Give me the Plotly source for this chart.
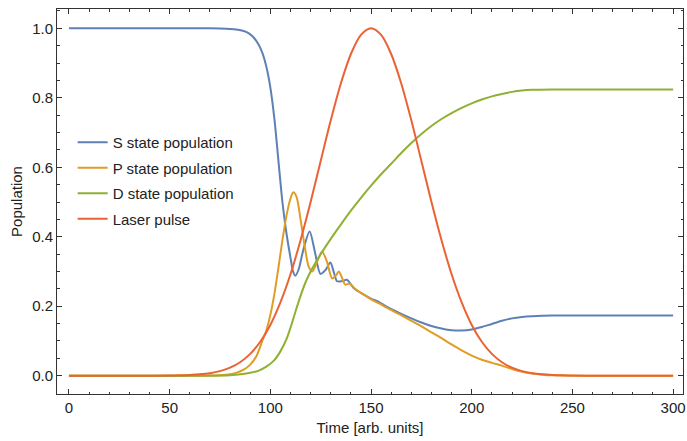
import plotly.graph_objects as go

# ---- data ----
t_S = [0, 20, 40, 60, 70, 78, 84, 88, 91, 94, 96, 98, 100, 102, 104, 106, 108, 110, 111.3, 112.4,
       114, 116.5, 119.5, 122, 124.9, 127.5, 129.8, 131.5, 133.1, 135.5, 138, 141.5, 146, 150, 154,
       158, 164, 170, 175, 180, 185, 190, 195, 200, 205, 210, 215, 220, 225, 230, 240, 250, 260, 280, 300]
S_pop = [1, 1, 1, 1, 1, 0.999, 0.996, 0.99, 0.978, 0.955, 0.93, 0.89, 0.83, 0.74, 0.62, 0.5, 0.41, 0.34, 0.3, 0.288,
         0.305, 0.365, 0.415, 0.36, 0.293, 0.305, 0.326, 0.298, 0.272, 0.272, 0.276, 0.252, 0.235, 0.222, 0.212,
         0.198, 0.181, 0.165, 0.153, 0.143, 0.136, 0.131, 0.13, 0.133, 0.14, 0.149, 0.158, 0.165, 0.169, 0.171, 0.173, 0.173, 0.173, 0.173, 0.173]

t_P = [0, 40, 60, 70, 78, 83, 87, 90, 93, 96, 98, 100, 102, 104, 106, 108, 110, 111.4, 113, 115, 117, 119,
       120.8, 123, 125.7, 128, 130.7, 132.5, 134, 135.7, 137.2, 139.5, 142, 146, 150, 154, 158, 164, 170, 175,
       180, 185, 190, 195, 200, 205, 210, 215, 220, 225, 230, 235, 240, 250, 270, 300]
P_pop = [0, 0, 0, 0.0005, 0.003, 0.008, 0.018, 0.032, 0.055, 0.1, 0.13, 0.175, 0.235, 0.31, 0.39, 0.46, 0.51, 0.528, 0.515, 0.45, 0.375, 0.315,
         0.3, 0.325, 0.357, 0.33, 0.28, 0.288, 0.3, 0.28, 0.262, 0.265, 0.25, 0.235, 0.22, 0.208, 0.195, 0.177, 0.158, 0.142,
         0.125, 0.108, 0.09, 0.073, 0.058, 0.046, 0.037, 0.029, 0.019, 0.011, 0.006, 0.003, 0.001, 0, 0, 0]

t_D = [0, 60, 80, 88, 94, 98, 102, 105, 108, 110, 112.5, 115, 117.5, 120, 122.5, 125, 130, 135, 140, 145, 150,
       155, 160, 165, 170, 175, 180, 185, 190, 195, 200, 205, 210, 215, 220, 225, 230, 240, 260, 280, 300]
D_pop = [0, 0, 0.001, 0.006, 0.014, 0.026, 0.045, 0.07, 0.105, 0.138, 0.185, 0.23, 0.269, 0.3, 0.326, 0.35, 0.394, 0.435, 0.475, 0.512, 0.547,
         0.58, 0.61, 0.641, 0.67, 0.696, 0.719, 0.739, 0.756, 0.771, 0.784, 0.795, 0.804, 0.811, 0.817, 0.821, 0.823, 0.824, 0.824, 0.824, 0.824]

t_L = [0, 40, 50, 55, 60, 65, 70, 75, 80, 85, 90, 95, 100, 105, 110, 115, 120, 125, 130, 135, 140, 145, 150,
       155, 160, 165, 170, 175, 180, 185, 190, 195, 200, 205, 210, 215, 220, 225, 230, 235, 240, 245, 250, 260, 300]
L_pulse = [0, 0, 0.0005, 0.001, 0.002, 0.0039, 0.0073, 0.0132, 0.0231, 0.0388, 0.0627, 0.0976, 0.146, 0.211, 0.292, 0.39, 0.5, 0.618, 0.735, 0.841, 0.926, 0.981, 1.0,
           0.981, 0.926, 0.841, 0.735, 0.618, 0.5, 0.39, 0.292, 0.211, 0.146, 0.0976, 0.0627, 0.0388, 0.0231, 0.0132, 0.0073, 0.0039, 0.002, 0.001, 0.0005, 0, 0]

names = ["S state population", "P state population", "D state population", "Laser pulse"]
colors = ["#5E81B5", "#E19C24", "#8FB032", "#EB6235"]
x_ticks = [0, 50, 100, 150, 200, 250, 300]
y_ticks = [0.0, 0.2, 0.4, 0.6, 0.8, 1.0]

series = [(t_S, S_pop), (t_P, P_pop), (t_D, D_pop), (t_L, L_pulse)]

FONT = "Liberation Sans, Arial, sans-serif"
FS = 15
fig = go.Figure()
for (tx, ty), name, c in zip(series, names, colors):
    fig.add_trace(go.Scatter(x=tx, y=ty, name=name, mode="lines",
                             line=dict(color=c, width=2, shape="spline", smoothing=0.8),
                             legendgroup=name))

axis_common = dict(showline=True, linecolor="#333333", linewidth=1, mirror="ticks",
                   ticks="inside", ticklen=5, tickcolor="#333333", tickwidth=1,
                   showgrid=False, zeroline=False, ticklabeloverflow="allow",
                   tickfont=dict(family=FONT, size=FS, color="#222222"))

fig.update_layout(
    width=687, height=441,
    margin=dict(l=57, r=1, t=9, b=47),
    paper_bgcolor="white", plot_bgcolor="white",
    font=dict(family=FONT, size=FS, color="#222222"),
    showlegend=True,
    legend=dict(x=0.025, y=0.696, xanchor="left", yanchor="top",
                bgcolor="rgba(0,0,0,0)", borderwidth=0,
                font=dict(family=FONT, size=FS, color="#222222"),
                tracegroupgap=3),
    xaxis=dict(range=[-5.93, 304.9], tickvals=x_ticks, ticktext=[str(v) for v in x_ticks],
               minor=dict(dtick=10, ticklen=2.5, ticks="inside", tickcolor="#333333"),
               title=dict(text="Time [arb. units]", font=dict(family=FONT, size=FS, color="#222222"), standoff=7),
               **axis_common),
    yaxis=dict(range=[-0.0527, 1.0556], tickvals=y_ticks, ticktext=[f"{v:.1f}" for v in y_ticks],
               minor=dict(dtick=0.05, ticklen=2.5, ticks="inside", tickcolor="#333333"),
               title=dict(text="Population", font=dict(family=FONT, size=FS, color="#222222"), standoff=5),
               **axis_common),
)

fig.write_html("out.html")
